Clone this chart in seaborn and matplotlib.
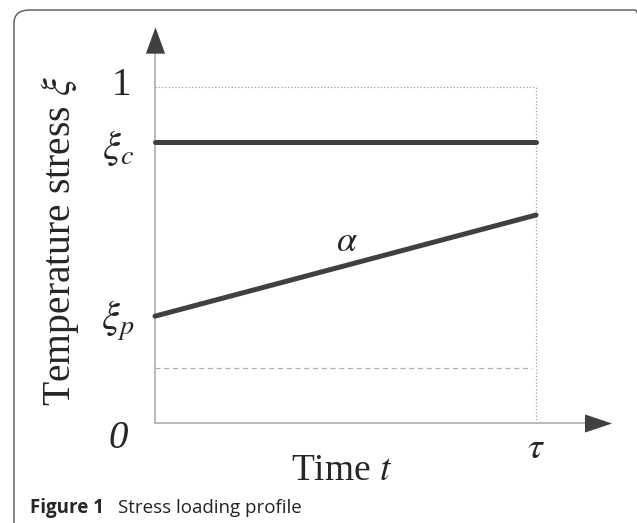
import numpy as np
import pandas as pd
import seaborn as sns
import matplotlib.pyplot as plt
from matplotlib.patches import FancyBboxPatch

# normalised time from 0 to tau
t = [0, 1]
xi_c = [0.836, 0.836]          # constant stress level
xi_ramp = [0.318, 0.619]       # ramp from xi_p with slope alpha
upper_level = 1.0              # dotted top bound
lower_level = 0.164            # dashed lower bound
ytick_labels = [r'$\xi_c$', r'$\xi_p$']
ytick_values = [0.818, 0.304]

sns.set_theme(style="white")
plt.rcParams['font.family'] = ['Liberation Serif', 'DejaVu Serif']
plt.rcParams['mathtext.fontset'] = 'stix'

fig = plt.figure(figsize=(6.37, 5.23), dpi=100)
ax = fig.add_axes([0, 0, 1, 1])
ax.set_xlim(-155 / 381, (637 - 155) / 381)
ax.set_ylim((423 - 523) / 336, 423 / 336)
ax.axis('off')

dark = '#404040'
grey = '#b4b4b4'

# reference lines
ax.plot([0, 1], [upper_level, upper_level], ls=':', color='#a0a0a0', lw=0.9)
ax.plot([1, 1], [0, upper_level], ls=':', color='#a0a0a0', lw=0.9)
ax.plot([0, 0.99], [lower_level, lower_level], ls='--', color='#b0b0b0', lw=0.9, dashes=(4, 3))

# axes with arrowheads
ax.plot([0, 0], [0, 1.101], color=grey, lw=1.3)
ax.plot([0, 1.129], [0, 0], color=grey, lw=1.3)
ax.plot([0], [1.140], marker=[(-0.73, -1), (0.73, -1), (0, 1)], markersize=19,
        color=dark, markeredgewidth=0)
ax.plot([1.164], [0], marker=[(-1, -0.67), (-1, 0.67), (1, 0)], markersize=19.5,
        color=dark, markeredgewidth=0)

df = pd.DataFrame({'t': t + t, 'xi': xi_c + xi_ramp,
                   'profile': ['constant'] * 2 + ['ramp'] * 2})
sns.lineplot(data=df, x='t', y='xi', units='profile', estimator=None,
             color=dark, lw=3.6, solid_capstyle='round', ax=ax, legend=False)

ax.text(-0.089, 1.003, '1', ha='center', va='center', fontsize=28)
ax.text(-0.097, -0.045, '0', ha='center', va='center', fontsize=28, style='italic')
for lab, yv in zip(ytick_labels, ytick_values):
    ax.text(-0.097, yv, lab, ha='center', va='center', fontsize=29)
ax.text(1.0, -0.077, r'$\tau$', ha='center', va='center', fontsize=27)
ax.text(0.504, 0.536, r'$\alpha$', ha='center', va='center', fontsize=26)
ax.text(0.491, -0.143, r'Time $t$', ha='center', va='center', fontsize=27)
ax.text(-0.249, 0.542, r'Temperature stress $\xi$', rotation=90, ha='center',
        va='center', fontsize=28.5)

# caption and frame
fig.text(30 / 637, 10 / 523, 'Figure 1', fontsize=13.5, fontweight='bold',
         family='Open Sans', va='baseline')
fig.text(118 / 637, 10 / 523, 'Stress loading profile', fontsize=13.5,
         family='Open Sans', va='baseline', color='#222222')
frame = FancyBboxPatch((14 / 637, -0.05), 1.0, (523 - 10) / 523 + 0.05,
                       boxstyle='round,pad=0,rounding_size=0.025',
                       transform=fig.transFigure, fill=False,
                       edgecolor='#555555', lw=1.0)
fig.patches.append(frame)

fig.savefig('out.png', dpi=100)
